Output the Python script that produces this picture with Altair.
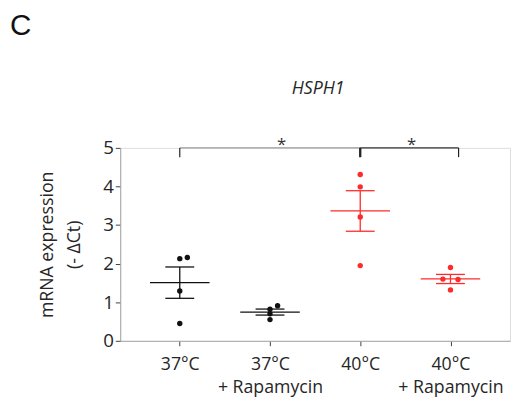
import json
import altair as alt
import pandas as pd

# ---- data ----
groups = ["37°C", "37°C + Rapamycin", "40°C", "40°C + Rapamycin"]
tick_labels = [["37°C"], ["37°C", "+ Rapamycin"], ["40°C"], ["40°C", "+ Rapamycin"]]
temps = ["37", "37", "40", "40"]
values = [
    [2.13, 2.16, 1.29, 0.45],
    [0.82, 0.91, 0.70, 0.55],
    [4.31, 3.99, 3.21, 1.95],
    [1.90, 1.60, 1.59, 1.32],
]
# side-by-side lane of each dot (tied values are drawn next to each other)
lanes = [
    [0, 1, 0, 0],
    [0, 1, 0, 0],
    [0, 0, 0, 0],
    [0, -1, 1, 0],
]
# significance brackets (group positions) and labels
bracket_from = [1, 3]
bracket_to = [3, 4.09]
bracket_label = ["*", "*"]
bracket_star_x = [2.13, 3.57]
bracket_color = ["#9a9a9a", "#333333"]
gene = "HSPH1"
panel_letter = "C"

rows = []
for gi, (g, t, vals, ln) in enumerate(zip(groups, temps, values, lanes)):
    for v, l in zip(vals, ln):
        rows.append({"group": g, "idx": gi + 1, "temp": t, "value": v, "lane": l})
df = pd.DataFrame(rows)

br = pd.DataFrame({
    "x1": bracket_from, "x2": bracket_to, "label": bracket_label,
    "col": bracket_color, "top": [5, 5], "mid": bracket_star_x,
})
ends = pd.DataFrame({"x": bracket_from + bracket_to, "top": 5, "bot": 4.76,
                     "w": [1.2, 2, 2, 1.2]})

FONT = "Open Sans"
xscale = alt.Scale(domain=[0.34, 4.66], nice=False, zero=False)
yscale = alt.Scale(domain=[0, 5], nice=False)
pt_colors = alt.Scale(domain=["37", "40"], range=["#111111", "#ff2a2a"])
ln_colors = alt.Scale(domain=["37", "40"], range=["#3a3a3a", "#f25a5a"])

label_expr = json.dumps(tick_labels, ensure_ascii=False) + "[datum.value - 1]"

xaxis = alt.Axis(values=[1, 2, 3, 4], labelExpr=label_expr, title=None, grid=False,
                 domainColor="#a6a6a6", tickColor="#404040", tickSize=5,
                 labelFont=FONT, labelFontSize=18, labelColor="#262626",
                 labelPadding=10, labelLineHeight=24, labelOverlap=False)
yaxis = alt.Axis(values=[0, 1, 2, 3, 4, 5], title=["mRNA expression", "(- ΔCt)"],
                 grid=False, domainColor="#a6a6a6", tickColor="#404040", tickSize=5,
                 labelFont=FONT, labelFontSize=19, labelColor="#262626", labelPadding=2,
                 labelOverlap=False,
                 titleFont=FONT, titleFontSize=18, titleFontWeight="normal",
                 titleColor="#262626", titleLineHeight=28, titlePadding=19)


def X(field):
    return alt.X(field, scale=xscale, axis=xaxis)


def Y(field):
    return alt.Y(field, scale=yscale, axis=yaxis)


base = alt.Chart(df)

pts = base.transform_calculate(xp="datum.idx + datum.lane * 0.084").mark_circle(
    size=30, opacity=1
).encode(
    x=X("xp:Q"),
    y=Y("value:Q"),
    color=alt.Color("temp:N", scale=pt_colors, legend=None),
)

stats = base.transform_aggregate(
    m="mean(value)", se="stderr(value)", groupby=["idx", "temp"]
).transform_calculate(
    lo="datum.m - datum.se", hi="datum.m + datum.se",
    ml="datum.idx - 0.33", mr="datum.idx + 0.33",
    cl="datum.idx - 0.16", cr="datum.idx + 0.16",
)

col = alt.Color("temp:N", scale=ln_colors, legend=None)
mean_line = stats.mark_rule(strokeWidth=1.3).encode(
    x=X("ml:Q"), x2="mr:Q", y=Y("m:Q"), color=col)
cap_lo = stats.mark_rule(strokeWidth=1.3).encode(
    x=X("cl:Q"), x2="cr:Q", y=Y("lo:Q"), color=col)
cap_hi = stats.mark_rule(strokeWidth=1.3).encode(
    x=X("cl:Q"), x2="cr:Q", y=Y("hi:Q"), color=col)
stem = stats.mark_rule(strokeWidth=1.3).encode(
    x=X("idx:Q"), y=Y("lo:Q"), y2="hi:Q", color=col)

br_h = alt.Chart(br).mark_rule(strokeWidth=1.3).encode(
    x=X("x1:Q"), x2="x2:Q", y=Y("top:Q"),
    color=alt.Color("col:N", scale=None))
br_v = alt.Chart(ends).mark_rule(color="#222222").encode(
    x=X("x:Q"), y=Y("top:Q"), y2="bot:Q",
    strokeWidth=alt.StrokeWidth("w:Q", scale=None))
br_t = alt.Chart(br).mark_text(font=FONT, fontSize=17, color="#333333",
                               baseline="alphabetic", dy=2).encode(
    x=X("mid:Q"), y=Y("top:Q"), text="label:N")

texts = pd.DataFrame({"t": [panel_letter]})
panel = alt.Chart(texts).mark_text(
    font="Liberation Sans", fontSize=30, align="left", baseline="alphabetic", color="#111111"
).encode(x=alt.value(-112), y=alt.value(-115), text="t:N")
title = alt.Chart(pd.DataFrame({"t": [gene]})).mark_text(
    font=FONT, fontSize=18, fontStyle="italic", align="center", baseline="alphabetic",
    color="#262626"
).encode(x=alt.value(201), y=alt.value(-55), text="t:N")

chart = alt.layer(
    pts, br_h, br_v, br_t, mean_line, cap_lo, cap_hi, stem, panel, title
).properties(
    width=396, height=196,
    autosize=alt.AutoSizeParams(type="none"),
    padding={"left": 114, "top": 139, "right": 1, "bottom": 56},
).configure_view(strokeWidth=0).configure(background="white")

chart.save("out.html", embed_options={"renderer": "svg", "actions": False})
